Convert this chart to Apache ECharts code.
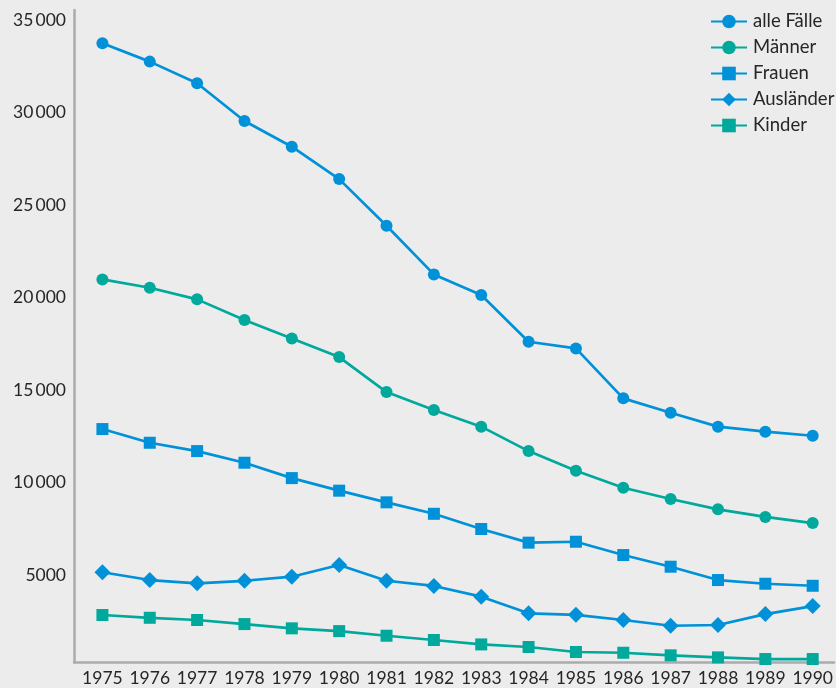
<!DOCTYPE html>
<html>
<head>
<meta charset="utf-8">
<script src="https://cdn.jsdelivr.net/npm/echarts@6/dist/echarts.min.js"></script>
<style>
html,body{margin:0;padding:0;background:#ebeceb;}
#chart{width:836px;height:688px;}
</style>
</head>
<body>
<div id="chart"></div>
<script>
const years = [1975,1976,1977,1978,1979,1980,1981,1982,1983,1984,1985,1986,1987,1988,1989,1990];
const yTicks = [5000,10000,15000,20000,25000,30000,35000];
const alleFaelle = [33740,32750,31580,29540,28150,26400,23880,21250,20140,17610,17250,14550,13770,13020,12750,12530];
const maenner   = [20980,20530,19900,18780,17790,16780,14890,13920,13020,11700,10640,9720,9110,8550,8140,7810];
const frauen    = [12890,12150,11700,11070,10240,9560,8930,8310,7490,6750,6800,6080,5450,4730,4530,4420];
const auslaender= [5150,4730,4550,4690,4910,5540,4690,4410,3830,2930,2850,2570,2260,2300,2890,3320];
const kinder    = [2840,2690,2570,2350,2120,1970,1720,1490,1250,1110,840,800,660,550,460,460];

const BLUE = '#0091d9';
const TEAL = '#00a99c';
const FONT = 'Lato';
const TXT = '#262626';

function pairs(arr){ return arr.map((v,i)=>[years[i], v]); }
function mk(name, data, color, symbol, size){
  return {
    name, type:'line', data: pairs(data),
    symbol, symbolSize: size, showSymbol:true,
    lineStyle:{color, width:2.7},
    itemStyle:{color},
    emphasis:{disabled:true},
    animation:false
  };
}

const chart = echarts.init(document.getElementById('chart'), null, {renderer:'canvas'});
chart.setOption({
  backgroundColor:'#ebeceb',
  animation:false,
  textStyle:{fontFamily:FONT},
  grid:{left:74, right:0, top:10, bottom:26, containLabel:false},
  legend:{
    orient:'vertical', left:705, top:7,
    itemWidth:36, itemHeight:17, itemGap:7,
    textStyle:{fontFamily:FONT, fontSize:18.5, color:TXT, padding:[0,0,0,1]},
    data:['alle Fälle','Männer','Frauen','Ausländer','Kinder']
  },
  xAxis:{
    type:'value', min:1974.4, max:1990.45,
    splitLine:{show:false},
    axisTick:{show:false},
    axisLine:{show:true, lineStyle:{color:'#a9abad', width:2.5}},
    axisLabel:{
      customValues: years,
      formatter: v => String(v),
      fontFamily:FONT, fontSize:17.5, color:TXT, margin:7
    }
  },
  yAxis:{
    type:'value', min:300, max:35540,
    splitLine:{show:false},
    axisTick:{show:false},
    axisLine:{show:true, lineStyle:{color:'#a9abad', width:2.5}},
    axisLabel:{
      customValues: yTicks,
      formatter: v => v >= 10000 ? (Math.floor(v/1000) + '\u2009' + String(v%1000).padStart(3,'0')) : String(v),
      fontFamily:FONT, fontSize:17.5, color:TXT, margin:8
    }
  },
  series:[
    mk('alle Fälle', alleFaelle, BLUE, 'circle', 12),
    mk('Männer', maenner, TEAL, 'circle', 12),
    mk('Frauen', frauen, BLUE, 'rect', 12),
    mk('Ausländer', auslaender, BLUE, 'diamond', 16),
    mk('Kinder', kinder, TEAL, 'rect', 12)
  ]
});
</script>
</body>
</html>
